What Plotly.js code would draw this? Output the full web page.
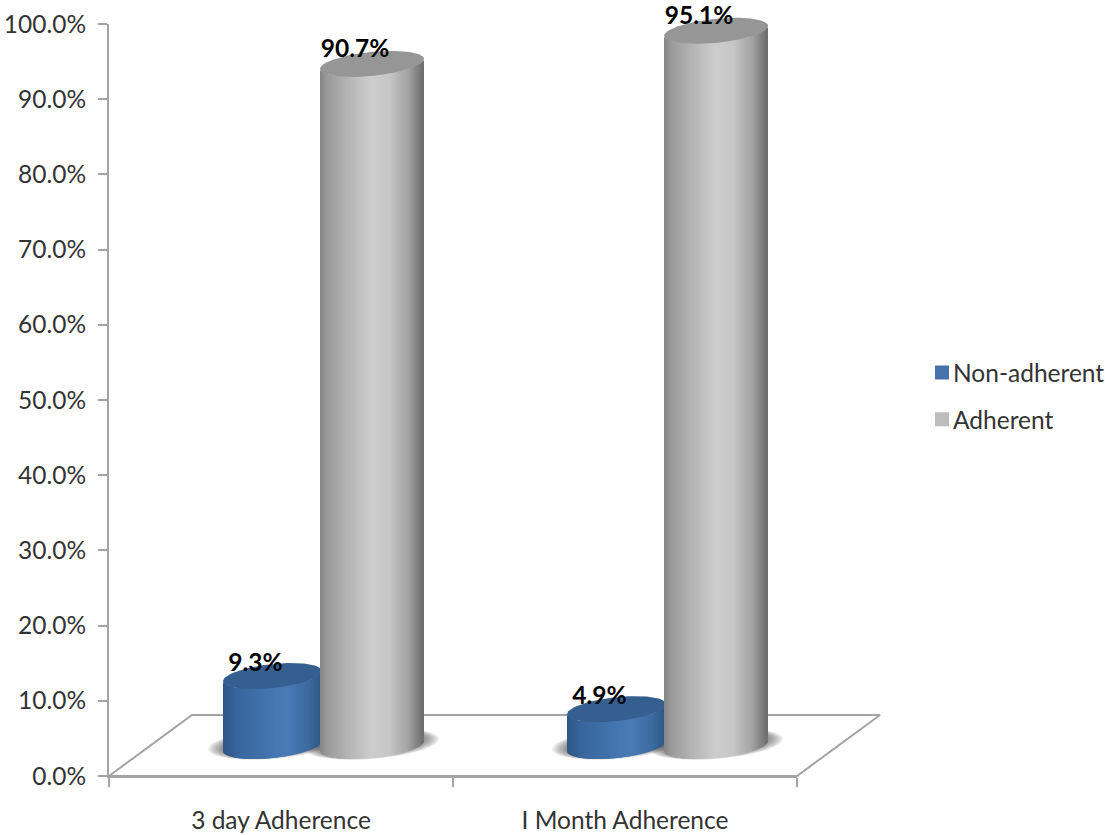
<!DOCTYPE html>
<html>
<head>
<meta charset="utf-8">
<script src="https://cdn.plot.ly/plotly-3.0.1.min.js"></script>
<style>html,body{margin:0;padding:0;background:#fff}#chart{width:1105px;height:835px}</style>
</head>
<body>
<div id="chart"></div>
<script>
// Adherence survey results
const categories = ['3 day Adherence', 'I Month Adherence'];
const nonAdherent = [9.3, 4.9];
const adherent = [90.7, 95.1];
const seriesNames = ['Non-adherent', 'Adherent'];

// Plot frame, in pixels
const W = 1105, H = 835;
const FRAME = {l: 109, r: 797, t: 24, b: 776};
const pxPerX = (FRAME.r - FRAME.l) / 2;
const pxPerY = (FRAME.b - FRAME.t) / 100;
const px = v => v / pxPerX;      // horizontal pixels to category units
const py = v => v / pxPerY;      // vertical pixels to percent units

// A hidden page-wide frame on the same scale lets the 3D parts leave the axes box
const WIDE_X = [-0.5 - px(FRAME.l), 1.5 + px(W - FRAME.r)];
const WIDE_Y = [-py(H - FRAME.b), 100 + py(FRAME.t)];

// Pseudo-3D geometry
const FLOOR_RISE = py(61), FLOOR_SHIFT = px(83);
const BASE = py(30);                 // cylinder foot sits this far above the axis
const TILT = py(5), MINOR = py(12);  // ellipse shear and half-height
const blueCyl = {shift: px(-8.5), a: px(49.5), top: '#355f8f', legend: '#4673aa', lift: py(11),
  stops: [[-1, '#2c5687'], [-0.72, '#38659c'], [0, '#4576b0'], [0.3, '#4a7bb6'], [0.75, '#3c6a9f'], [1, '#2e5885']]};
const greyCyl = {shift: px(91), a: px(52), top: '#969696', legend: '#bdbdbd', lift: py(13),
  stops: [[-1, '#868686'], [-0.85, '#9b9b9b'], [-0.45, '#b4b4b4'], [0, '#cdcdcd'], [0.35, '#c6c6c6'], [0.72, '#a2a2a2'], [0.93, '#7c7c7c'], [1, '#6e6e6e']]};
const AXIS_GREY = '#a3a3a3', TEXT = '#333';
const FONT = 'Lato, sans-serif';

const hex = c => [1, 3, 5].map(i => parseInt(c.substr(i, 2), 16));
function shade(stops, u) {
  for (let i = 1; i < stops.length; i++) {
    if (u <= stops[i][0]) {
      const [u0, c0] = stops[i - 1], [u1, c1] = stops[i];
      const t = (u - u0) / (u1 - u0), a = hex(c0), b = hex(c1);
      return 'rgb(' + a.map((v, k) => Math.round(v + (b[k] - v) * t)).join(',') + ')';
    }
  }
  return stops[stops.length - 1][1];
}

// Ellipse outline around (cx, cy) with a slight shear, in axis units
function ellipse(cx, cy, a, b, tilt) {
  const xs = [], ys = [];
  for (let d = 0; d <= 360; d += 4) {
    const t = d * Math.PI / 180;
    xs.push(cx + a * Math.cos(t));
    ys.push(cy + tilt * Math.cos(t) + b * Math.sin(t));
  }
  return {x: xs, y: ys};
}

const common = {hoverinfo: 'skip', showlegend: false, cliponaxis: false};
const traces = [];

// Plain bars carry the category axis and the legend keys
[[nonAdherent, blueCyl], [adherent, greyCyl]].forEach(([vals, c], k) => {
  traces.push({
    type: 'bar', xaxis: 'x', yaxis: 'y', name: seriesNames[k], legendgroup: seriesNames[k],
    x: categories, y: vals, base: vals.map(() => BASE),
    width: c.a * 1.4, offset: c.shift - c.a * 0.7,
    marker: {color: c.legend, line: {color: c.legend, width: 2}},
    hoverinfo: 'skip', cliponaxis: false
  });
});

// Floor of the chart
traces.push(Object.assign({}, common, {
  type: 'scatter', mode: 'lines', xaxis: 'x2', yaxis: 'y2',
  x: [-0.5, 1.5, 1.5 + FLOOR_SHIFT, -0.5 + FLOOR_SHIFT, -0.5],
  y: [0, 0, FLOOR_RISE, FLOOR_RISE, 0],
  line: {color: AXIS_GREY, width: 2}
}));

// Soft contact shadows on the floor
categories.forEach((_, i) => {
  [blueCyl, greyCyl].forEach(c => {
    for (let s = 0; s < 8; s++) {
      const e = ellipse(i + c.shift, BASE + py(2), c.a + px(15 - s * 2), MINOR + py(3 - s * 0.4), TILT);
      traces.push(Object.assign({}, common, {
        type: 'scatter', mode: 'lines', fill: 'toself', xaxis: 'x2', yaxis: 'y2',
        x: e.x, y: e.y, line: {width: 0}, fillcolor: 'rgba(50,50,50,0.09)'
      }));
    }
  });
});

// One shaded cylinder per value: overlapping vertical strips, then the lit top
function cylinder(cat, value, c, axis) {
  const cx = cat + c.shift, n = Math.round(c.a * pxPerX * 2);
  const xs = [], bases = [], hs = [], cols = [];
  const inner = c.a - px(0.6);
  for (let j = 0; j < n; j++) {
    const u = (j + 0.5) / n * 2 - 1;
    xs.push(cx + u * inner);
    bases.push(BASE + TILT * u - MINOR * Math.sqrt(1 - u * u));
    hs.push(value);
    cols.push(shade(c.stops, u));
  }
  traces.push(Object.assign({}, common, {
    type: 'bar', xaxis: axis, yaxis: 'y2', x: xs, y: hs, base: bases,
    width: px(2.2), marker: {color: cols, line: {width: 0}}
  }));
  const e = ellipse(cx, BASE + value, c.a, MINOR, TILT);
  traces.push(Object.assign({}, common, {
    type: 'scatter', mode: 'lines', fill: 'toself', xaxis: axis, yaxis: 'y2',
    x: e.x, y: e.y, line: {width: 0}, fillcolor: c.top
  }));
}
categories.forEach((_, i) => {
  cylinder(i, nonAdherent[i], blueCyl, 'x3');
  cylinder(i, adherent[i], greyCyl, 'x4');
});

// Value labels sit on the cylinder tops
const labelValues = [...nonAdherent, ...adherent];
const labelLifts = [blueCyl.lift, blueCyl.lift, greyCyl.lift, greyCyl.lift];
traces.push(Object.assign({}, common, {
  type: 'scatter', mode: 'text', xaxis: 'x4', yaxis: 'y2',
  x: [0 + blueCyl.shift, 1 + blueCyl.shift, 0 + greyCyl.shift, 1 + greyCyl.shift].map(v => v - px(17)),
  y: labelValues.map((v, i) => BASE + v + labelLifts[i]),
  text: labelValues.map(v => v.toFixed(1) + '%'),
  textposition: 'middle center',
  textfont: {family: FONT, size: 24.5, color: '#000', weight: 700}
}));

const wideX = extra => Object.assign({range: WIDE_X, visible: false, fixedrange: true, anchor: 'y2', domain: [0, 1]}, extra);

const layout = {
  width: W, height: H, margin: {l: 0, r: 0, t: 0, b: 0},
  paper_bgcolor: '#fff', plot_bgcolor: 'rgba(0,0,0,0)',
  barmode: 'overlay',
  font: {family: FONT, size: 24.5, color: TEXT},
  xaxis: {
    domain: [FRAME.l / W, FRAME.r / W], anchor: 'y',
    type: 'category', categoryorder: 'array', categoryarray: categories, range: [-0.5, 1.5],
    tickson: 'boundaries', ticklabelstandoff: 22,
    showline: true, linecolor: AXIS_GREY, linewidth: 2,
    ticks: 'outside', ticklen: 9, tickwidth: 2, tickcolor: AXIS_GREY,
    showgrid: false, zeroline: false, fixedrange: true,
    tickfont: {family: FONT, size: 24.5, color: TEXT}
  },
  yaxis: {
    domain: [(H - FRAME.b) / H, (H - FRAME.t) / H], anchor: 'x',
    range: [0, 100], tickmode: 'linear', tick0: 0, dtick: 10,
    tickformat: '.1f', ticksuffix: '%', ticklabelstandoff: 7,
    showline: true, linecolor: AXIS_GREY, linewidth: 2,
    ticks: 'outside', ticklen: 9, tickwidth: 2, tickcolor: AXIS_GREY,
    showgrid: false, zeroline: false, fixedrange: true,
    tickfont: {family: FONT, size: 24.5, color: TEXT}
  },
  xaxis2: wideX({}),
  xaxis3: wideX({overlaying: 'x2'}),
  xaxis4: wideX({overlaying: 'x2'}),
  yaxis2: {range: WIDE_Y, visible: false, fixedrange: true, anchor: 'x2', domain: [0, 1]},
  showlegend: true,
  legend: {
    x: 880 / W, xanchor: 'left',
    y: 1 - 396 / H, yanchor: 'middle',
    tracegroupgap: 12,
    font: {family: FONT, size: 24.5, color: TEXT}
  }
};

Plotly.newPlot('chart', traces, layout, {displayModeBar: false, staticPlot: true}).then(() => {
  // Slide the legend to the page's right edge and bring its keys closer to the labels
  const legend = document.querySelector('.legend');
  const [, tx, ty] = legend.getAttribute('transform').match(/translate\(([-\d.]+),\s*([-\d.]+)\)/);
  legend.setAttribute('transform', `translate(${+tx + 33},${ty})`);
  document.querySelectorAll('.legend .legendsymbols').forEach(g => g.setAttribute('transform', 'translate(9,0)'));
});
</script>
</body>
</html>
